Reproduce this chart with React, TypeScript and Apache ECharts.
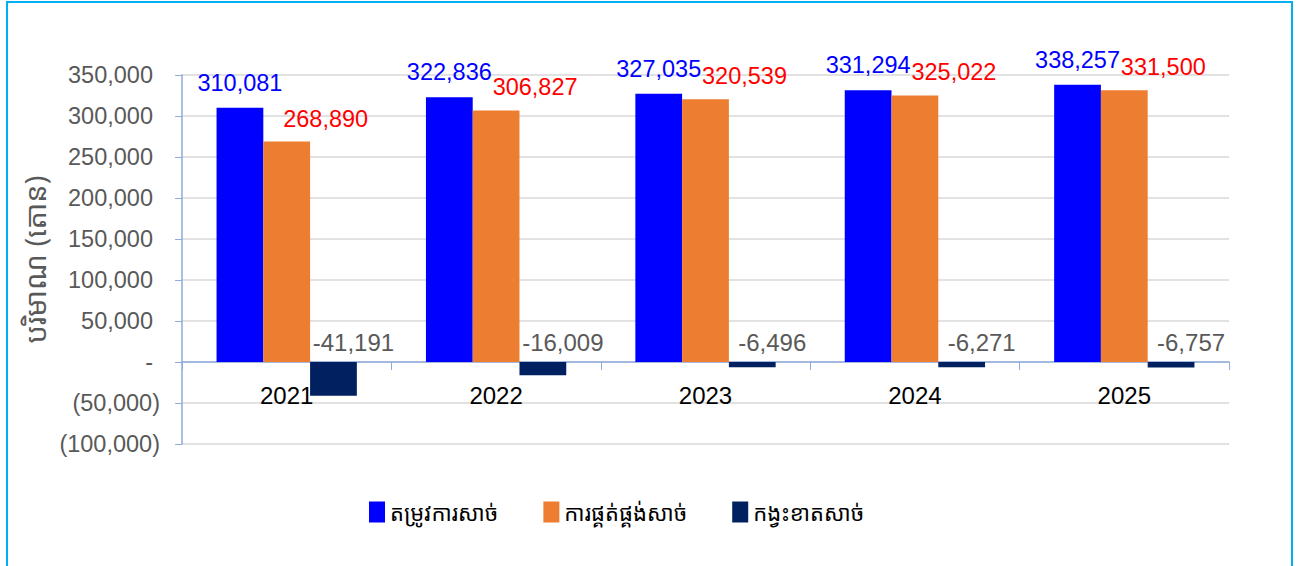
import React, { useEffect, useRef } from "react";
import * as echarts from "echarts";

const categories = ["2021", "2022", "2023", "2024", "2025"];
const demand = [310081, 322836, 327035, 331294, 338257];
const supply = [268890, 306827, 320539, 325022, 331500];
const deficit = [-41191, -16009, -6496, -6271, -6757];
const seriesNames = ["តម្រូវការសាច់", "ការផ្គត់ផ្គង់សាច់", "កង្វះខាតសាច់"];
const yAxisName = "បរិមាណ (តោន)";

const fmtNum = (v: number) => Math.abs(v).toLocaleString("en-US");
const yFmt = (v: number) =>
  v === 0 ? "{p|-}" : v < 0 ? "(" + fmtNum(v) + ")" : "{p|" + fmtNum(v) + "}";
const FONT = "Liberation Sans, Arial, sans-serif";
const KH = "'Khmer OS', 'Noto Sans Khmer', 'Khmer OS System', sans-serif";

export default function App() {
  const ref = useRef<HTMLDivElement>(null);
  useEffect(() => {
    const chart = echarts.init(ref.current!, null, { renderer: "svg" });
    chart.setOption({
      animation: false,
      backgroundColor: "#ffffff",
      graphic: [
        {
          type: "rect",
          shape: { x: 7, y: 2, width: 1285, height: 580 },
          style: { fill: "none", stroke: "#00B0F0", lineWidth: 2 },
          silent: true,
        },
      ],
      grid: { left: 182, right: 71, top: 75, bottom: 122, containLabel: false },
      legend: {
        bottom: 38,
        left: 364,
        itemWidth: 16,
        itemHeight: 21,
        itemGap: 45,
        icon: "rect",
        textStyle: { fontFamily: KH, fontSize: 22, color: "#000" },
        data: seriesNames,
      },
      xAxis: {
        type: "category",
        data: categories,
        axisLine: { onZero: true, lineStyle: { color: "#8FAADC", width: 1.5 } },
        axisTick: { show: true, length: 8, lineStyle: { color: "#8FAADC" } },
        axisLabel: { fontFamily: FONT, fontSize: 24, color: "#000", margin: -61 },
      },
      yAxis: {
        type: "value",
        min: -100000,
        max: 350000,
        interval: 50000,
        name: yAxisName,
        nameLocation: "middle",
        nameRotate: 90,
        nameGap: 131,
        nameTextStyle: { fontFamily: KH, fontSize: 29, color: "#595959" },
        axisLine: { show: true, lineStyle: { color: "#8FAADC", width: 1.5 } },
        axisTick: { show: true, length: 7, lineStyle: { color: "#8FAADC" } },
        axisLabel: {
          fontFamily: FONT,
          fontSize: 23.5,
          color: "#595959",
          margin: 22,
          formatter: yFmt,
          rich: { p: { fontFamily: FONT, fontSize: 23.5, color: "#595959", padding: [0, 7, 0, 0] } },
        },
        splitLine: { lineStyle: { color: "#D9D9D9", width: 1.5 } },
      },
      series: [
        {
          name: seriesNames[0],
          type: "bar",
          data: demand,
          barGap: "0%",
          barCategoryGap: "33%",
          itemStyle: { color: "#0000FF" },
          label: {
            show: true,
            position: "top",
            distance: 13,
            fontFamily: FONT,
            fontSize: 23.5,
            color: "#0000FF",
            formatter: (p: any) => p.value.toLocaleString("en-US"),
          },
        },
        {
          name: seriesNames[1],
          type: "bar",
          data: supply,
          barGap: "0%",
          barCategoryGap: "33%",
          itemStyle: { color: "#ED7D31" },
          label: {
            show: true,
            position: "top",
            distance: 11,
            offset: [39, 0],
            fontFamily: FONT,
            fontSize: 23.5,
            color: "#FF0000",
            formatter: (p: any) => p.value.toLocaleString("en-US"),
          },
        },
        {
          name: seriesNames[2],
          type: "bar",
          data: deficit,
          barGap: "0%",
          barCategoryGap: "33%",
          itemStyle: { color: "#002060" },
          label: {
            show: true,
            position: "top",
            distance: 8,
            offset: [20, 0],
            fontFamily: FONT,
            fontSize: 24,
            color: "#595959",
            formatter: (p: any) => p.value.toLocaleString("en-US"),
          },
        },
      ],
    });
    return () => chart.dispose();
  }, []);
  return (
    <div
      ref={ref}
      style={{ position: "absolute", left: 0, top: 0, width: 1300, height: 566 }}
    />
  );
}
